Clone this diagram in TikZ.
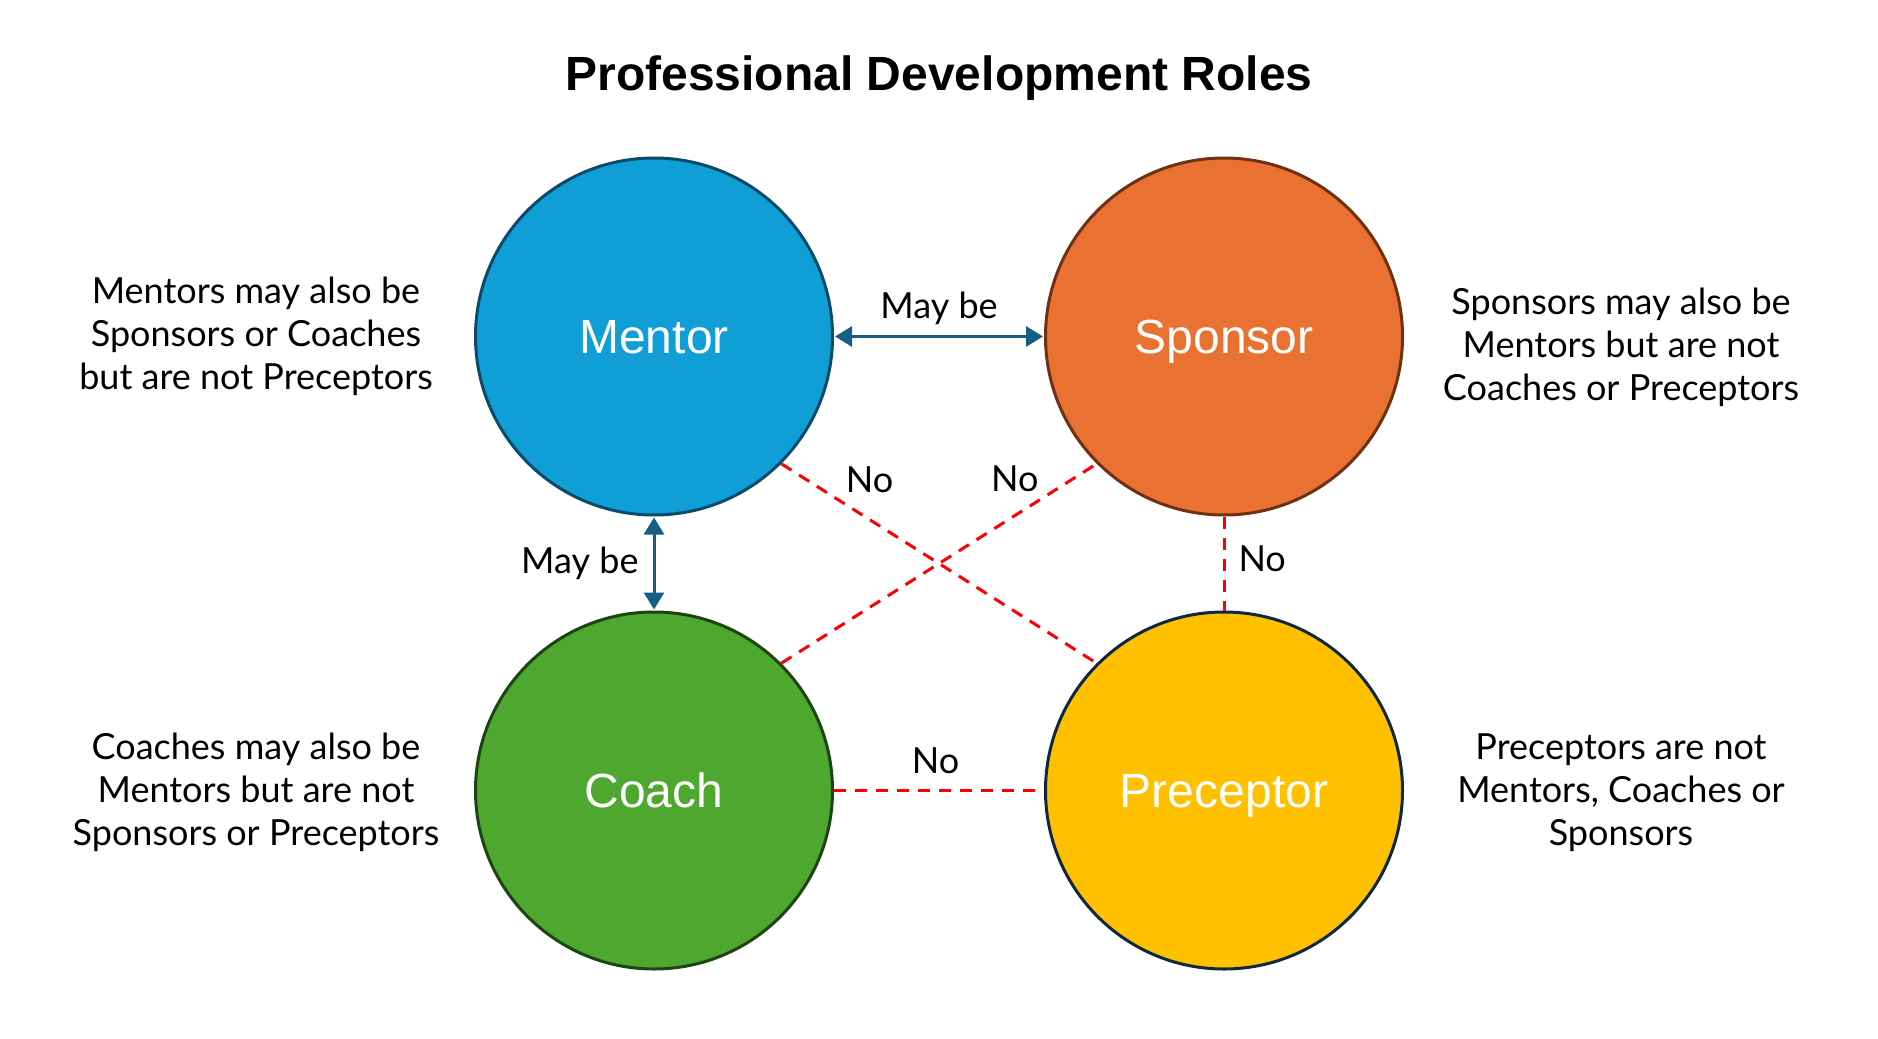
\documentclass[tikz,border=0pt]{standalone}
\usepackage{fontspec}
\setmainfont{Liberation Sans}
\newfontfamily\notefont{Lato}
\usepackage{xcolor}
\usepackage{tikz}
\usetikzlibrary{arrows.meta,positioning,calc}

\definecolor{mentorblue}{HTML}{0F9ED5}
\definecolor{mentorline}{HTML}{0B4A68}
\definecolor{sponsororange}{HTML}{E97132}
\definecolor{sponsorline}{HTML}{6E3212}
\definecolor{coachgreen}{HTML}{4EA72E}
\definecolor{coachline}{HTML}{1D4512}
\definecolor{preceptoryellow}{HTML}{FFC000}
\definecolor{preceptorline}{HTML}{0E2841}
\definecolor{linkblue}{HTML}{156082}

\begin{document}
\begin{tikzpicture}[
    x=1pt, y=-1pt,
    node distance=94pt and 210pt, % gaps between the circles
    role/.style={circle, draw, line width=3pt, minimum size=357pt, inner sep=0pt,
                 text height=34pt, text depth=0pt,
                 text=white, font=\fontsize{48}{56}\selectfont},
    note/.style={align=center, font=\notefont\fontsize{36}{43}\selectfont},
    lbl/.style={inner sep=0pt, font=\notefont\fontsize{36}{43}\selectfont},
    maybe/.style={line width=3pt, draw=linkblue, {Triangle[length=17pt,width=20pt]}-{Triangle[length=17pt,width=20pt]}, shorten <=1pt, shorten >=1pt},
    nolink/.style={line width=3pt, draw=red, dash pattern=on 12pt off 9pt}
  ]
    \useasboundingbox (0,0) rectangle (1878,1038);

    % Title
    \node[font=\bfseries\fontsize{48}{56}\selectfont] (title) at (939,78) {Professional Development Roles};

    % Roles
    \node[role, fill=mentorblue, draw=mentorline] (mentor) at (654,336.5) {Mentor};
    \node[role, fill=sponsororange, draw=sponsorline, right=of mentor] (sponsor) {Sponsor};
    \node[role, fill=coachgreen, draw=coachline, below=of mentor] (coach) {Coach};
    \node[role, fill=preceptoryellow, draw=preceptorline, below=of sponsor] (preceptor) {Preceptor};

    % Side notes
    \node[note] (mentornote) at (256,336.5) {Mentors may also be\\Sponsors or Coaches\\but are not Preceptors};
    \node[note] (sponsornote) at (1621,347) {Sponsors may also be\\Mentors but are not\\Coaches or Preceptors};
    \node[note] (coachnote) at (256,792.5) {Coaches may also be\\Mentors but are not\\Sponsors or Preceptors};
    \node[note] (preceptornote) at (1621,792.5) {Preceptors are not\\Mentors, Coaches or\\Sponsors};

    % May be
    \draw[maybe] (mentor.east) -- node[lbl, midway, above=10pt] {May be} (sponsor.west);
    \draw[maybe] (mentor.south) -- node[lbl, midway, left=14pt] {May be} (coach.north);

    % No
    \draw[nolink] (mentor.-45) -- node[lbl, pos=0.28, above=25pt] {No} (preceptor.135);
    \draw[nolink] (coach.45) -- node[lbl, pos=0.74, above=22pt] {No} (sponsor.-135);
    \draw[nolink] (sponsor.south) -- node[lbl, midway, right=13pt, yshift=5pt] {No} (preceptor.north);
    \draw[nolink] (coach.east) -- node[lbl, midway, above=15pt] {No} ([xshift=-7pt]preceptor.west);

\end{tikzpicture}
\end{document}
